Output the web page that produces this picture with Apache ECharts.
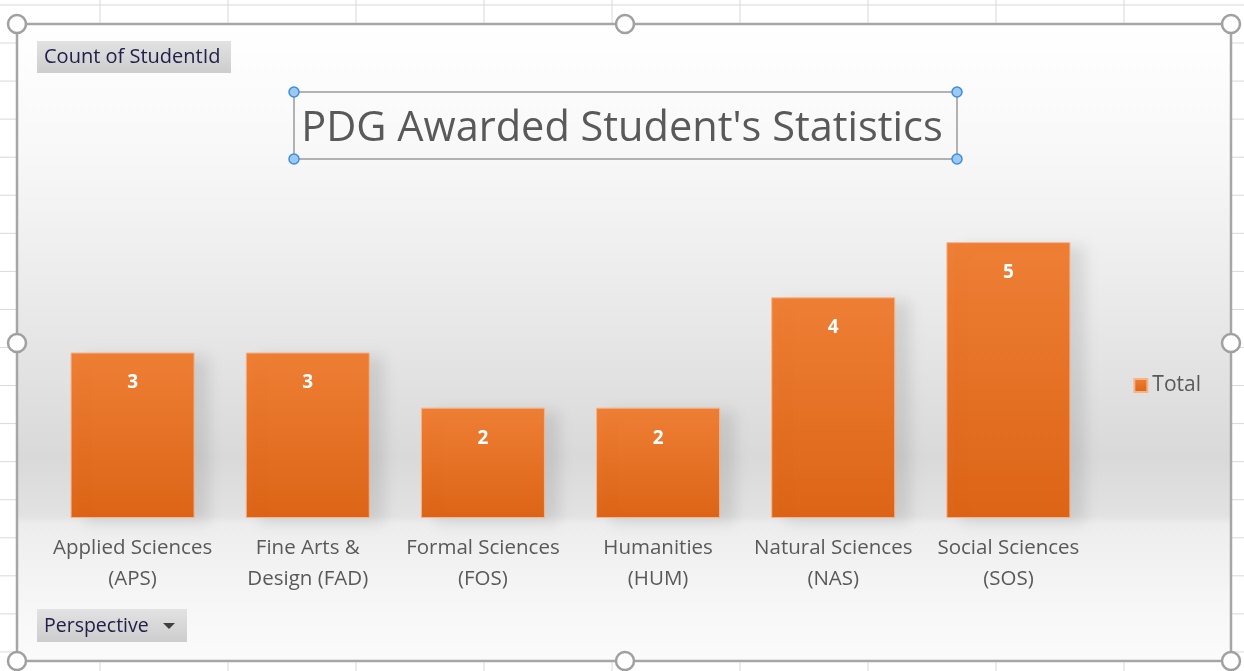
<!DOCTYPE html>
<html><head><meta charset="utf-8">
<script src="https://cdn.jsdelivr.net/npm/echarts@6/dist/echarts.min.js"></script>
<style>html,body{margin:0;padding:0;background:#fff}#c{width:1244px;height:671px}</style>
</head><body><div id="c"></div>
<script>
const categories = ['Applied Sciences\n(APS)', 'Fine Arts &\nDesign (FAD)', 'Formal Sciences\n(FOS)', 'Humanities\n(HUM)', 'Natural Sciences\n(NAS)', 'Social Sciences\n(SOS)'];
const totals = [3, 3, 2, 2, 4, 5];
const seriesName = 'Total';
const titleText = "PDG Awarded Student's Statistics";
const valueFieldLabel = 'Count of StudentId';
const axisFieldLabel = 'Perspective';

const FONT = '"Open Sans", "Noto Sans", sans-serif';
const chart = echarts.init(document.getElementById('c'), null, {renderer: 'canvas'});

const g = [];
const gridCol = '#d9d9d9';
g.push({type: 'line', z: -200, shape: {x1: 0, y1: 5, x2: 1244, y2: 5}, style: {stroke: gridCol, lineWidth: 1}});
for (let x = 100; x < 1244; x += 128) {
  g.push({type: 'line', z: -200, shape: {x1: x, y1: 0, x2: x, y2: 24}, style: {stroke: gridCol, lineWidth: 1}});
  g.push({type: 'line', z: -200, shape: {x1: x, y1: 661, x2: x, y2: 671}, style: {stroke: gridCol, lineWidth: 1}});
}
for (let y = 43; y < 671; y += 38.06) {
  g.push({type: 'line', z: -200, shape: {x1: 0, y1: y, x2: 17, y2: y}, style: {stroke: gridCol, lineWidth: 1}});
  g.push({type: 'line', z: -200, shape: {x1: 1231, y1: y, x2: 1244, y2: y}, style: {stroke: gridCol, lineWidth: 1}});
}
g.push({type: 'rect', z: -150, shape: {x: 17, y: 24, width: 1214, height: 637},
  style: {fill: new echarts.graphic.LinearGradient(0, 0, 0, 1, [
    {offset: 0, color: '#ffffff'}, {offset: 0.2, color: '#f8f8f8'}, {offset: 0.45, color: '#e9e9e9'},
    {offset: 0.68, color: '#d9d9d9'}, {offset: 0.772, color: '#e2e2e2'}, {offset: 0.785, color: '#ededed'},
    {offset: 0.9, color: '#f6f6f6'}, {offset: 1, color: '#fbfbfb'}])}});
g.push({type: 'rect', z: 100, shape: {x: 17, y: 24, width: 1214, height: 637}, style: {fill: 'none', stroke: '#a6a6a6', lineWidth: 2.5}});
[[17,24],[625,24],[1231,24],[17,343],[1231,343],[17,661],[625,661],[1231,661]].forEach(p => {
  g.push({type: 'circle', z: 101, shape: {cx: p[0], cy: p[1], r: 9}, style: {fill: '#ffffff', stroke: '#a0a0a0', lineWidth: 2.5}});
});
g.push({type: 'rect', z: 100, shape: {x: 294, y: 92, width: 663, height: 67}, style: {fill: 'none', stroke: '#9a9a9a', lineWidth: 1.5}});
[[294,92],[957,92],[294,159],[957,159]].forEach(p => {
  g.push({type: 'circle', z: 101, shape: {cx: p[0], cy: p[1], r: 5}, style: {fill: '#9dc8f0', stroke: '#3b8ee0', lineWidth: 1.5}});
});
const btnFill = new echarts.graphic.LinearGradient(0, 0, 0, 1, [{offset: 0, color: '#e2e2e2'}, {offset: 1, color: '#cdcdcd'}]);
g.push({type: 'rect', z: 100, shape: {x: 37, y: 41, width: 194, height: 32}, style: {fill: btnFill}});
g.push({type: 'text', z: 101, x: 44, y: 57, style: {text: valueFieldLabel, font: '20px ' + FONT, fill: '#20204a', verticalAlign: 'middle'}});
g.push({type: 'rect', z: 100, shape: {x: 37, y: 609, width: 150, height: 33}, style: {fill: btnFill}});
g.push({type: 'text', z: 101, x: 44, y: 626, style: {text: axisFieldLabel, font: '19.5px ' + FONT, fill: '#20204a', verticalAlign: 'middle'}});
g.push({type: 'polygon', z: 101, shape: {points: [[163, 623], [175, 623], [169, 629]]}, style: {fill: '#404040'}});

chart.setOption({
  backgroundColor: '#ffffff',
  animation: false,
  title: {text: titleText, left: 'center', top: 103, textStyle: {fontFamily: FONT, fontSize: 41.5, fontWeight: 'normal', color: '#595959'}},
  legend: {data: [seriesName], right: 38, top: 370, icon: 'rect', itemWidth: 13, itemHeight: 13, itemGap: 6,
    textStyle: {fontFamily: FONT, fontSize: 21, color: '#595959'}},
  grid: {left: 45, right: 148, top: 187, bottom: 153, containLabel: false},
  xAxis: {type: 'category', data: categories, axisLine: {show: false}, axisTick: {show: false},
    axisLabel: {fontFamily: FONT, fontSize: 20.5, color: '#595959', lineHeight: 31, margin: 15, interval: 0}},
  yAxis: {type: 'value', min: 0, max: 6, show: false, splitLine: {show: false}},
  graphic: g,
  series: [{
    name: seriesName, type: 'bar', data: totals, barWidth: 124,
    itemStyle: {
      color: new echarts.graphic.LinearGradient(0, 0, 0, 1, [{offset: 0, color: '#ee7f35'}, {offset: 1, color: '#dc6416'}]),
      borderColor: '#f6b48a', borderWidth: 1,
      shadowColor: 'rgba(0,0,0,0.10)', shadowBlur: 14, shadowOffsetX: 14, shadowOffsetY: 4
    },
    label: {show: true, position: 'insideTop', distance: 21, fontFamily: FONT, fontSize: 19, fontWeight: 'bold', color: '#ffffff'}
  }]
});
</script></body></html>
